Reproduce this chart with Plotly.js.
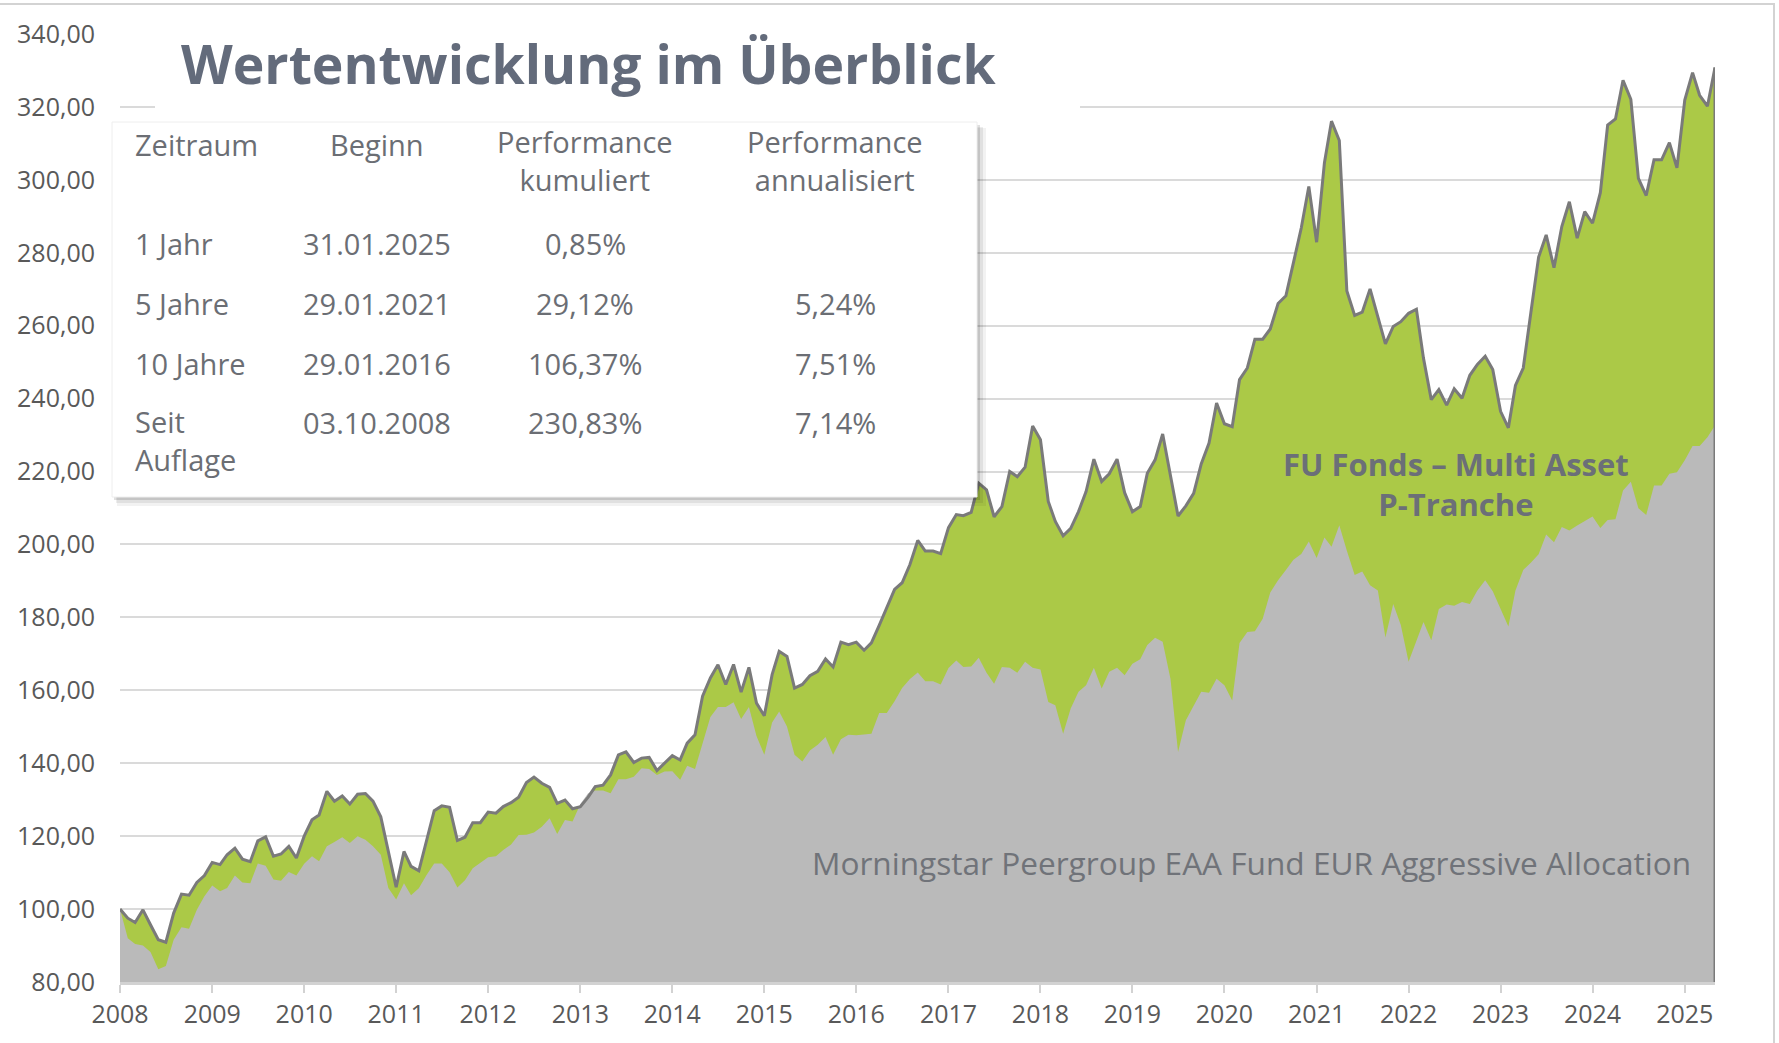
<!DOCTYPE html>
<html>
<head>
<meta charset="utf-8">
<script src="https://cdn.plot.ly/plotly-3.0.1.min.js"></script>
<style>
  html, body { margin: 0; padding: 0; background: #ffffff; }
  #chart { width: 1779px; height: 1043px; }
</style>
</head>
<body>
<div id="chart"></div>
<script>
// ---- Data (monthly, Jan 2008 – May 2025), indexed to 100 ----
const startYear = 2008;
const fundName = "FU Fonds – Multi Asset P-Tranche";
const peerName = "Morningstar Peergroup EAA Fund EUR Aggressive Allocation";

const fundValues = [
  100.0, 97.5, 96.3, 99.8, 95.7, 91.6, 90.9, 98.9, 104.1, 103.8, 107.3, 109.2,
  112.8, 112.2, 114.9, 116.7, 113.7, 113.0, 118.7, 119.8, 114.5, 115.1, 117.2, 114.0,
  120.0, 124.5, 125.8, 132.3, 129.6, 131.0, 128.8, 131.5, 131.7, 129.6, 125.3, 115.4,
  106.0, 115.8, 111.7, 110.5, 118.9, 127.0, 128.3, 127.9, 118.8, 119.7, 123.7, 123.7,
  126.6, 126.3, 128.1, 129.2, 130.7, 134.7, 136.2, 134.5, 133.4, 129.0, 129.9, 127.5,
  128.1, 130.7, 133.6, 134.0, 136.8, 142.3, 143.1, 140.2, 141.4, 141.6, 138.0, 140.0,
  142.1, 140.9, 145.5, 147.8, 158.4, 163.4, 167.0, 161.6, 167.1, 159.5, 166.3, 156.5,
  153.0, 164.3, 170.7, 169.3, 160.6, 161.6, 164.0, 165.2, 168.6, 166.4, 173.2, 172.5,
  173.2, 171.0, 173.0, 177.8, 182.6, 187.7, 189.5, 194.5, 201.1, 198.2, 198.2, 197.5,
  204.6, 208.2, 207.9, 208.8, 216.8, 215.0, 207.6, 210.4, 220.0, 218.6, 221.2, 232.5,
  228.7, 211.8, 206.3, 202.4, 204.4, 209.0, 214.5, 223.4, 217.3, 219.4, 223.4, 214.2,
  209.0, 210.4, 219.5, 223.2, 230.3, 219.1, 207.8, 210.6, 214.0, 222.1, 227.8, 238.8,
  233.1, 232.3, 245.2, 248.4, 256.3, 256.3, 259.1, 266.1, 268.2, 277.3, 286.8, 298.2,
  282.9, 304.7, 316.1, 310.8, 269.5, 262.8, 263.7, 270.1, 262.5, 255.0, 259.8, 261.1,
  263.4, 264.5, 251.1, 239.7, 242.5, 238.2, 242.7, 240.1, 246.4, 249.4, 251.6, 248.0,
  236.5, 232.0, 243.6, 248.4, 263.5, 278.8, 284.9, 275.9, 287.2, 294.0, 284.0, 291.3,
  288.1, 296.5, 315.0, 316.7, 327.3, 322.1, 300.4, 295.7, 305.5, 305.5, 310.2, 303.3,
  321.9, 329.4, 323.2, 320.2, 330.8
];

const peerValues = [
  100.0, 92.0, 90.4, 90.0, 88.2, 83.5, 84.4, 91.6, 95.0, 94.6, 99.8, 103.5,
  106.5, 104.9, 105.8, 109.2, 107.3, 107.1, 112.5, 111.9, 108.1, 107.8, 110.2, 109.2,
  112.4, 114.5, 113.1, 117.2, 118.4, 119.7, 118.1, 120.0, 119.0, 117.2, 114.9, 105.8,
  102.6, 107.1, 103.8, 105.7, 109.3, 112.5, 112.5, 110.1, 105.9, 107.9, 111.2, 112.8,
  114.2, 114.5, 116.2, 117.7, 120.3, 120.4, 121.0, 122.6, 124.9, 120.6, 124.4, 124.0,
  128.8, 131.8, 132.5, 132.5, 131.8, 135.6, 135.6, 136.3, 138.6, 138.4, 136.8, 137.7,
  137.8, 135.5, 139.3, 138.4, 145.5, 152.7, 155.4, 155.4, 156.7, 152.1, 155.4, 147.5,
  142.3, 151.2, 154.2, 150.1, 142.3, 140.5, 143.5, 145.1, 147.2, 142.3, 146.6, 147.8,
  147.7, 147.8, 148.1, 153.8, 153.8, 157.0, 160.6, 163.1, 164.9, 162.5, 162.5, 161.6,
  166.1, 168.2, 166.4, 166.5, 168.9, 164.8, 161.8, 166.4, 166.2, 164.8, 167.8, 166.2,
  165.7, 156.8, 155.9, 148.1, 155.0, 159.6, 161.4, 166.2, 160.5, 165.1, 166.2, 164.1,
  167.3, 168.5, 172.4, 174.4, 173.3, 163.2, 143.1, 151.8, 155.6, 159.6, 159.3, 163.2,
  161.4, 157.2, 173.0, 176.0, 176.2, 179.6, 186.8, 190.2, 193.0, 195.8, 197.4, 200.8,
  196.3, 201.9, 199.4, 205.3, 198.3, 191.6, 192.6, 188.8, 187.4, 174.5, 183.7, 177.9,
  167.8, 173.4, 178.7, 173.7, 182.3, 183.5, 183.2, 184.2, 183.7, 187.4, 190.2, 187.2,
  182.3, 177.5, 187.4, 193.0, 195.0, 197.3, 202.7, 200.6, 204.8, 203.8, 205.2, 206.4,
  207.7, 204.5, 206.7, 206.9, 214.8, 217.2, 209.9, 208.1, 216.2, 216.2, 219.4, 219.8,
  223.1, 227.0, 227.0, 229.4, 232.6
];

// Performance table
const tableHeaders = ["Zeitraum", "Beginn", "Performance<br>kumuliert", "Performance<br>annualisiert"];
const tablePeriods = ["1 Jahr", "5 Jahre", "10 Jahre", "Seit<br>Auflage"];
const tableStart = ["31.01.2025", "29.01.2021", "29.01.2016", "03.10.2008"];
const tableCumulative = ["0,85%", "29,12%", "106,37%", "230,83%"];
const tableAnnualized = ["", "5,24%", "7,51%", "7,14%"];

const yTicks = [80, 100, 120, 140, 160, 180, 200, 220, 240, 260, 280, 300, 320, 340];

// month dates for the x axis
const dates = fundValues.map((_, i) => {
  const y = startYear + Math.floor(i / 12);
  const m = (i % 12) + 1;
  return y + "-" + String(m).padStart(2, "0") + "-01";
});
const lastDate = dates[dates.length - 1];

// ---- Layout helpers (pixel -> paper) ----
const W = 1779, H = 1043;
const M = { l: 120, r: 64, t: 34, b: 61 };
const PW = W - M.l - M.r, PH = H - M.t - M.b;
const px = x => (x - M.l) / PW;
const py = y => (H - M.b - y) / PH;

const FONT = "Open Sans, Noto Sans, sans-serif";
const GREEN = "#abc947";
const GREY_FILL = "#bababa";
const LINE = "#7a7a7a";
const TXT = "#6b6e74";

const traces = [
  { x: dates, y: fundValues, type: "scatter", mode: "lines", fill: "tozeroy",
    fillcolor: GREEN, line: { width: 0, color: GREEN }, name: fundName, hoverinfo: "skip" },
  { x: dates, y: peerValues, type: "scatter", mode: "lines", fill: "tozeroy",
    fillcolor: GREY_FILL, line: { width: 0, color: GREY_FILL }, name: peerName, hoverinfo: "skip" },
  { x: dates, y: fundValues, type: "scatter", mode: "lines",
    line: { width: 3, color: LINE }, name: fundName, hoverinfo: "skip" }
];

const shapes = [
  // end-of-series vertical edge
  { type: "line", xref: "x", yref: "y", x0: lastDate, x1: lastDate, y0: 80,
    y1: fundValues[fundValues.length - 1], line: { color: LINE, width: 3 }, layer: "above" },
  // outer frame lines (top and right)
  { type: "line", xref: "paper", yref: "paper", x0: px(0), x1: px(1775), y0: py(4), y1: py(4),
    line: { color: "#d3d3d3", width: 2 } },
  { type: "line", xref: "paper", yref: "paper", x0: px(1774), x1: px(1774), y0: py(4), y1: py(1043),
    line: { color: "#d3d3d3", width: 2 } },
  // title background
  { type: "rect", xref: "paper", yref: "paper", x0: px(155), x1: px(1080), y0: py(117), y1: py(14),
    fillcolor: "#ffffff", line: { width: 0 }, layer: "above" },
  // table shadow
  { type: "rect", xref: "paper", yref: "paper", x0: px(117), x1: px(986), y0: py(506), y1: py(128),
    fillcolor: "rgba(0,0,0,0.05)", line: { width: 0 }, layer: "above" },
  { type: "rect", xref: "paper", yref: "paper", x0: px(116), x1: px(983), y0: py(503), y1: py(127),
    fillcolor: "rgba(0,0,0,0.07)", line: { width: 0 }, layer: "above" },
  { type: "rect", xref: "paper", yref: "paper", x0: px(114), x1: px(980), y0: py(500), y1: py(125),
    fillcolor: "rgba(0,0,0,0.12)", line: { width: 0 }, layer: "above" },
  // table box
  { type: "rect", xref: "paper", yref: "paper", x0: px(112), x1: px(977), y0: py(497), y1: py(122),
    fillcolor: "#ffffff", line: { width: 1, color: "#eeeeee" }, layer: "above" }
];

const ann = [];
function A(text, x, y, opts) {
  ann.push(Object.assign({ text: text, xref: "paper", yref: "paper", x: px(x), y: py(y),
    showarrow: false, xanchor: "center", yanchor: "middle",
    font: { family: FONT, size: 29, color: TXT } }, opts || {}));
}
// title
A("<b>Wertentwicklung im Überblick</b>", 179, 64,
  { xanchor: "left", font: { family: FONT, size: 53.5, color: "#636b7b" } });
// table header
const colX = [133, 377, 585, 835];
A(tableHeaders[0], colX[0], 145, { xanchor: "left" });
A(tableHeaders[1], colX[1], 145);
A(tableHeaders[2], colX[2], 161);
A(tableHeaders[3], colX[3], 161);
// table rows
const rowY = [244, 303, 363, 422];
for (let i = 0; i < tablePeriods.length; i++) {
  if (tablePeriods[i].indexOf("<br>") >= 0) {
    A(tablePeriods[i], colX[0], rowY[i] + 18, { xanchor: "left", align: "left" });
  } else {
    A(tablePeriods[i], colX[0], rowY[i], { xanchor: "left" });
  }
  A(tableStart[i], colX[1], rowY[i]);
  A(tableCumulative[i], colX[2], rowY[i]);
  if (tableAnnualized[i]) A(tableAnnualized[i], colX[3], rowY[i]);
}
// series labels
A("<b>FU Fonds – Multi Asset</b><br><b>P-Tranche</b>", 1456, 484,
  { font: { family: FONT, size: 31, color: "#6b6f78" } });
A(peerName, 1693, 862, { xanchor: "right", font: { family: FONT, size: 31.6, color: "#707379" } });

const layout = {
  width: W, height: H,
  margin: M,
  paper_bgcolor: "#ffffff", plot_bgcolor: "#ffffff",
  showlegend: false,
  separators: ",.",
  font: { family: FONT, color: "#595959" },
  xaxis: {
    type: "date",
    range: [dates[0], lastDate],
    tick0: dates[0], dtick: "M12", tickformat: "%Y",
    showgrid: false, zeroline: false,
    showline: true, linecolor: "#d2d2d2", linewidth: 3,
    ticks: "outside", ticklen: 8, tickwidth: 2, tickcolor: "#d2d2d2",
    ticklabelstandoff: 0,
    tickfont: { family: FONT, size: 25, color: "#595959" },
    fixedrange: true
  },
  yaxis: {
    range: [80, 340],
    tickvals: yTicks, tickformat: ".2f",
    showgrid: true, gridcolor: "#dadada", gridwidth: 2,
    zeroline: false, showline: false,
    ticks: "", ticklabelstandoff: 24,
    tickfont: { family: FONT, size: 25, color: "#595959" },
    fixedrange: true
  },
  shapes: shapes,
  annotations: ann
};

Plotly.newPlot("chart", traces, layout, { displayModeBar: false, staticPlot: true });
</script>
</body>
</html>
